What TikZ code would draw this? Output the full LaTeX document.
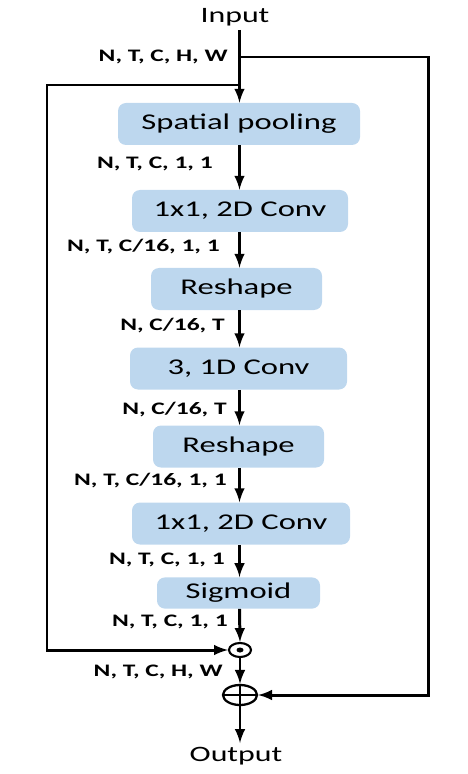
\documentclass[tikz,border=0pt]{standalone}
\usepackage{fontspec}
\setmainfont{Carlito}[FakeStretch=1.45]
\usetikzlibrary{shapes.geometric}
\definecolor{boxblue}{RGB}{189,215,238}
\tikzset{
	opbox/.style={fill=boxblue, rounded corners=0.16cm, minimum height=0.84cm, font=\fontsize{12.8}{14}\selectfont},
	dimlabel/.style={anchor=east, inner sep=0pt, font=\fontsize{10}{11}\selectfont\bfseries},
	flow/.style={line width=1.7pt, ->},
}
\begin{document}
\begin{tikzpicture}[line join=miter, >=latex]
	\useasboundingbox (0,0) rectangle (9.36,-15.48);
	% 1. Vào / ra
	\node[font=\fontsize{12.5}{14}\selectfont] (in) at (4.70,-0.34) {Input};
	\node[font=\fontsize{12.5}{14}\selectfont] (out) at (4.72,-15.12) {Output};
	
	% 2. Các khối xử lý
	\node[opbox, minimum width=4.84cm] (pool) at (4.78,-2.48) {Spatial pooling};
	\node[opbox, minimum width=4.32cm] (convA) at (4.80,-4.22) {1x1, 2D Conv};
	\node[opbox, minimum width=3.42cm] (reshA) at (4.73,-5.78) {Reshape};
	\node[opbox, minimum width=4.34cm] (convT) at (4.77,-7.37) {3, 1D Conv};
	\node[opbox, minimum width=3.42cm] (reshB) at (4.77,-8.93) {Reshape};
	\node[opbox, minimum width=4.36cm] (convB) at (4.82,-10.47) {1x1, 2D Conv};
	\node[opbox, minimum width=3.26cm, minimum height=0.6cm] (sig) at (4.77,-11.86) {Sigmoid};
	
	% 3. Nhân và cộng
	\node[draw, ellipse, line width=1.2pt, inner sep=0pt, minimum width=0.44cm, minimum height=0.28cm] (mul) at (4.80,-13.0) {};
	\fill (mul.center) ellipse (0.07 and 0.05);
	\node[draw, ellipse, line width=1.3pt, inner sep=0pt, minimum width=0.68cm, minimum height=0.40cm] (add) at (4.80,-13.9) {};
	\draw[line width=1.3pt] (add.west) -- (add.east);
	\draw[line width=1.7pt] (add.north) -- (add.south);
	
	% 4. Trục và điểm rẽ nhánh
	\coordinate (ax) at (4.79,0);
	\coordinate (rsplit) at (4.79,-1.14);
	\coordinate (lsplit) at (4.79,-1.70);
	\coordinate (rline) at (8.56,0);
	\coordinate (lline) at (0.94,0);
	
	% 5. Mũi tên chính
	\draw[flow] (4.79,-0.60) -- (pool.north -| ax);
	\draw[flow] (pool.south -| ax) -- (convA.north -| ax);
	\draw[flow] (convA.south -| ax) -- (reshA.north -| ax);
	\draw[flow] (reshA.south -| ax) -- (convT.north -| ax);
	\draw[flow] (convT.south -| ax) -- (reshB.north -| ax);
	\draw[flow] (reshB.south -| ax) -- (convB.north -| ax);
	\draw[flow] (convB.south -| ax) -- (sig.north -| ax);
	\draw[flow] (sig.south -| ax) -- (mul.north);
	\draw[flow] (mul) -- (add);
	\draw[flow] (add.south) -- (4.80,-14.86);
	
	% 6. Hai nhánh vòng
	\draw[flow] (rsplit) -| (rline |- add) -- (add.east);
	\draw[flow] (lsplit) -| (lline |- mul) -- (mul.west);
	
	% 7. Kích thước
	\node[dimlabel] (d0) at (4.56,-1.14) {N, T, C, H, W};
	\node[dimlabel] (d1) at (4.26,-3.28) {N, T, C, 1, 1};
	\node[dimlabel] (d2) at (4.40,-4.94) {N, T, C/16, 1, 1};
	\node[dimlabel] (d3) at (4.50,-6.52) {N, C/16, T};
	\node[dimlabel] (d4) at (4.54,-8.20) {N, C/16, T};
	\node[dimlabel] (d5) at (4.54,-9.62) {N, T, C/16, 1, 1};
	\node[dimlabel] (d6) at (4.50,-11.20) {N, T, C, 1, 1};
	\node[dimlabel] (d7) at (4.56,-12.44) {N, T, C, 1, 1};
	\node[dimlabel] (d8) at (4.46,-13.44) {N, T, C, H, W};
\end{tikzpicture}
\end{document}
